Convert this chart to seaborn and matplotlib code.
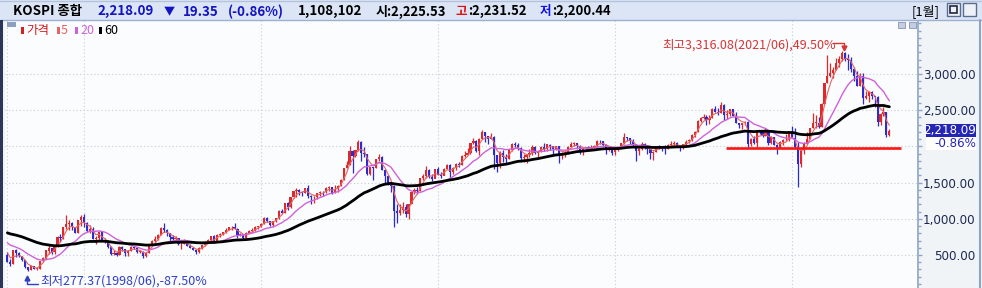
import numpy as np
import pandas as pd
import matplotlib
matplotlib.use("Agg")
import matplotlib.pyplot as plt
import seaborn as sns
from matplotlib.patches import Rectangle
from matplotlib.lines import Line2D

# ---------------- data (monthly KOSPI, 1997/11 .. 2022/10) ----------------
months = pd.period_range("1997-11", "2022-10", freq="M").strftime("%Y/%m").tolist()

# closes before the visible range, only used to warm up the moving averages (1992/12 .. 1997/10)
warmup_closes = [678,
    640, 660, 700, 730, 740, 760, 720, 710, 730, 780, 810, 866,
    920, 880, 860, 900, 930, 920, 950, 960, 1000, 1060, 1110, 1027,
    930, 880, 920, 880, 900, 890, 950, 910, 990, 950, 960, 882,
    860, 900, 910, 970, 960, 880, 840, 810, 830, 810, 730, 651,
    692, 677, 658, 703, 745, 745, 727, 695, 648, 471]

opens = [495, 410,
    380, 567, 523, 482, 434, 331, 298, 349, 310, 311, 413, 454,
    562, 591, 536, 618, 753, 729, 883, 932, 936, 884, 801, 981,
    1028, 944, 828, 861, 725, 732, 821, 706, 689, 613, 514, 527,
    505, 616, 578, 523, 560, 612, 595, 542, 545, 480, 530, 637,
    694, 725, 772, 874, 841, 797, 743, 719, 736, 646, 652, 676,
    628, 592, 575, 536, 599, 633, 670, 713, 759, 698, 779, 796,
    811, 848, 881, 883, 863, 771, 786, 735, 810, 835, 848, 890,
    896, 933, 1011, 966, 911, 970, 1008, 1111, 1083, 1221, 1158, 1297,
    1379, 1400, 1372, 1360, 1420, 1318, 1295, 1298, 1353, 1371, 1365, 1432,
    1434, 1360, 1417, 1453, 1542, 1701, 1744, 1933, 1873, 1946, 2065, 1906,
    1897, 1625, 1712, 1704, 1825, 1852, 1675, 1595, 1474, 1448, 1113, 1076,
    1124, 1162, 1063, 1206, 1369, 1396, 1390, 1557, 1592, 1673, 1581, 1556,
    1683, 1602, 1595, 1693, 1742, 1641, 1698, 1759, 1743, 1873, 1883, 1905,
    2051, 2070, 1939, 2107, 2192, 2142, 2101, 2133, 1880, 1770, 1909, 1848,
    1826, 1956, 2030, 2014, 1982, 1843, 1854, 1880, 1905, 1996, 1912, 1933,
    1997, 1962, 2026, 2005, 1964, 2001, 1863, 1914, 1926, 1997, 2030, 2045,
    2011, 1941, 1980, 1986, 1962, 1995, 2002, 2076, 2069, 2020, 1964, 1981,
    1916, 1949, 1986, 2041, 2127, 2115, 2074, 2030, 1941, 1963, 2029, 1992,
    1961, 1912, 1917, 1996, 1994, 1983, 1970, 2016, 2035, 2044, 2008, 1983,
    2026, 2068, 2092, 2160, 2205, 2347, 2392, 2403, 2363, 2394, 2523, 2476,
    2467, 2566, 2427, 2446, 2515, 2423, 2326, 2295, 2323, 2343, 2030, 2097,
    2041, 2205, 2195, 2141, 2204, 2042, 2131, 2025, 1968, 2063, 2083, 2088,
    2198, 2119, 1987, 1755, 1948, 2030, 2108, 2249, 2326, 2328, 2267, 2591,
    2873, 2976, 3013, 3061, 3148, 3204, 3297, 3202, 3199, 3069, 2971, 2839,
    2978, 2663, 2699, 2758, 2695, 2686, 2333, 2452, 2472, 2156]

highs = [540, 450,
    575, 580, 540, 490, 435, 335, 360, 350, 330, 415, 470, 565,
    640, 600, 620, 760, 785, 886, 1052, 980, 960, 890, 990, 1050,
    1066, 960, 920, 880, 760, 830, 830, 730, 700, 620, 570, 540,
    620, 630, 580, 570, 630, 630, 600, 575, 555, 540, 640, 705,
    760, 790, 880, 937, 860, 800, 780, 760, 740, 680, 720, 690,
    650, 610, 580, 610, 640, 690, 715, 760, 770, 790, 800, 820,
    870, 890, 905, 936, 870, 800, 790, 815, 850, 870, 900, 900,
    940, 1020, 1022, 970, 975, 1010, 1115, 1130, 1225, 1235, 1300, 1380,
    1421, 1410, 1390, 1430, 1464, 1330, 1320, 1360, 1380, 1380, 1440, 1450,
    1440, 1470, 1460, 1545, 1705, 1800, 2004, 1950, 1950, 2085, 2070, 1990,
    1900, 1720, 1720, 1830, 1900, 1870, 1690, 1600, 1500, 1460, 1210, 1200,
    1228, 1200, 1210, 1370, 1430, 1435, 1560, 1615, 1723, 1690, 1620, 1690,
    1720, 1640, 1700, 1760, 1750, 1720, 1770, 1790, 1880, 1930, 1975, 2052,
    2116, 2090, 2110, 2230, 2200, 2150, 2180, 2140, 1880, 1930, 1950, 1900,
    1960, 2050, 2057, 2050, 1990, 1900, 1890, 1960, 2021, 2010, 1940, 2010,
    2042, 2030, 2030, 2010, 2010, 2010, 1920, 1940, 2010, 2060, 2060, 2050,
    2020, 1990, 1990, 2010, 2020, 2020, 2082, 2093, 2080, 2030, 1990, 1990,
    1960, 1990, 2050, 2190, 2130, 2120, 2100, 2040, 1980, 2060, 2050, 2010,
    1970, 1940, 2000, 2020, 2000, 2020, 2030, 2070, 2070, 2060, 2020, 2040,
    2090, 2100, 2170, 2210, 2360, 2400, 2453, 2430, 2430, 2530, 2561, 2530,
    2607, 2580, 2500, 2520, 2500, 2470, 2330, 2330, 2350, 2350, 2110, 2140,
    2205, 2230, 2180, 2250, 2210, 2140, 2135, 2030, 2080, 2100, 2170, 2210,
    2277, 2250, 2060, 1950, 2060, 2200, 2250, 2458, 2430, 2400, 2600, 2880,
    3266, 3150, 3090, 3220, 3250, 3316, 3305, 3280, 3230, 3090, 3040, 3010,
    3010, 2760, 2760, 2760, 2700, 2700, 2460, 2550, 2480, 2240]

lows = [400, 351,
    370, 475, 470, 420, 320, 277, 290, 300, 296, 305, 400, 440,
    520, 510, 520, 610, 680, 720, 860, 850, 850, 800, 800, 900,
    890, 820, 800, 720, 650, 700, 700, 660, 590, 495, 500, 490,
    500, 560, 490, 480, 555, 580, 530, 530, 463, 475, 530, 620,
    680, 710, 770, 820, 760, 700, 690, 690, 640, 580, 650, 620,
    590, 570, 512, 530, 585, 630, 660, 700, 680, 690, 750, 770,
    800, 840, 850, 860, 730, 760, 719, 730, 800, 820, 830, 860,
    880, 930, 960, 900, 890, 960, 1000, 1060, 1080, 1120, 1150, 1290,
    1300, 1330, 1320, 1350, 1290, 1203, 1220, 1280, 1320, 1320, 1360, 1390,
    1345, 1360, 1370, 1450, 1540, 1700, 1740, 1638, 1850, 1930, 1800, 1850,
    1600, 1610, 1537, 1700, 1800, 1670, 1488, 1460, 1366, 892, 939, 1050,
    1080, 1018, 1000, 1200, 1340, 1340, 1380, 1530, 1570, 1560, 1520, 1560,
    1600, 1560, 1600, 1690, 1532, 1620, 1680, 1720, 1740, 1850, 1880, 1900,
    2040, 1920, 1880, 2100, 2060, 2030, 2100, 1684, 1644, 1700, 1780, 1750,
    1820, 1940, 1990, 1950, 1780, 1780, 1770, 1860, 1880, 1900, 1850, 1920,
    1940, 1940, 1950, 1890, 1950, 1770, 1830, 1850, 1900, 2000, 2000, 1960,
    1900, 1880, 1930, 1960, 1960, 1980, 1990, 2040, 2010, 1900, 1930, 1880,
    1876, 1930, 1980, 2040, 2080, 2030, 2010, 1800, 1880, 1950, 1960, 1900,
    1830, 1817, 1920, 1970, 1940, 1890, 1960, 2010, 1990, 2000, 1930, 1960,
    2020, 2050, 2080, 2130, 2200, 2340, 2380, 2300, 2310, 2390, 2470, 2440,
    2460, 2360, 2380, 2420, 2420, 2320, 2260, 2240, 2290, 1985, 2010, 2030,
    1990, 2170, 2130, 2140, 2020, 2040, 2020, 1891, 1980, 2020, 2080, 2070,
    2110, 1980, 1439, 1720, 1900, 2030, 2100, 2250, 2260, 2260, 2270, 2580,
    2870, 2960, 2950, 3050, 3090, 3180, 3180, 3060, 3030, 2900, 2830, 2840,
    2591, 2650, 2608, 2660, 2546, 2276, 2290, 2420, 2134, 2150]

closes = [406.5, 376.3,
    567.4, 522.9, 482.0, 433.6, 331.5, 297.9, 348.8, 310.2, 310.9, 412.8, 453.7, 562.5,
    591.4, 536.2, 618.3, 752.8, 728.6, 883.1, 931.7, 936.1, 883.8, 801.0, 981.3, 1028.1,
    943.9, 828.4, 860.9, 725.4, 731.9, 821.2, 706.0, 688.6, 613.2, 514.5, 526.8, 504.6,
    616.0, 577.6, 523.2, 560.1, 612.1, 595.1, 541.6, 545.1, 479.7, 529.6, 636.5, 693.7,
    725.0, 771.9, 873.7, 840.6, 797.0, 742.7, 719.3, 736.2, 646.4, 651.9, 676.2, 627.6,
    591.9, 575.4, 535.7, 599.3, 633.4, 669.9, 712.8, 759.5, 697.5, 778.5, 796.2, 810.7,
    848.5, 880.5, 883.4, 862.8, 771.5, 785.8, 735.3, 810.2, 835.1, 848.2, 890.1, 895.9,
    932.7, 1011.4, 965.7, 911.3, 970.2, 1008.2, 1111.3, 1083.3, 1221.0, 1158.1, 1297.4, 1379.4,
    1399.8, 1371.6, 1359.6, 1419.7, 1317.7, 1295.2, 1297.8, 1352.7, 1371.4, 1364.6, 1432.2, 1434.5,
    1360.2, 1417.4, 1452.6, 1542.2, 1700.9, 1743.6, 1933.3, 1873.2, 1946.5, 2064.9, 1906.0, 1897.1,
    1624.7, 1711.6, 1704.0, 1825.5, 1852.0, 1674.9, 1594.7, 1474.2, 1448.1, 1113.1, 1076.1, 1124.5,
    1162.1, 1063.0, 1206.3, 1369.4, 1395.9, 1390.1, 1557.3, 1591.9, 1673.1, 1580.7, 1555.6, 1682.8,
    1602.4, 1594.6, 1692.9, 1741.6, 1641.3, 1698.3, 1759.3, 1742.8, 1872.8, 1883.0, 1904.6, 2051.0,
    2069.7, 1939.3, 2106.7, 2192.4, 2142.5, 2100.7, 2133.2, 1880.1, 1769.7, 1909.0, 1847.5, 1825.7,
    1955.8, 2030.3, 2014.0, 1982.0, 1843.5, 1854.0, 1880.4, 1905.1, 1996.2, 1912.1, 1932.9, 1997.1,
    1961.9, 2026.5, 2004.9, 1964.0, 2001.1, 1863.3, 1914.0, 1926.4, 1997.0, 2030.1, 2044.9, 2011.3,
    1941.2, 1980.0, 1985.6, 1961.8, 1995.0, 2002.2, 2076.1, 2068.5, 2020.1, 1964.4, 1980.8, 1915.6,
    1949.3, 1985.8, 2041.0, 2127.2, 2114.8, 2074.2, 2030.2, 1941.5, 1962.8, 2029.5, 1992.0, 1961.3,
    1912.1, 1916.7, 1995.9, 1994.2, 1983.4, 1970.4, 2016.2, 2034.7, 2043.6, 2008.2, 1983.5, 2026.5,
    2067.6, 2091.6, 2160.2, 2205.4, 2347.4, 2391.8, 2402.7, 2363.2, 2394.5, 2523.4, 2476.4, 2467.5,
    2566.5, 2427.4, 2445.9, 2515.4, 2423.0, 2326.1, 2295.3, 2322.9, 2343.1, 2029.7, 2096.9, 2041.0,
    2204.9, 2195.4, 2140.7, 2203.6, 2041.7, 2130.6, 2024.6, 1967.8, 2063.1, 2083.5, 2088.0, 2197.7,
    2119.0, 1987.0, 1754.6, 1947.6, 2029.6, 2108.3, 2249.4, 2326.2, 2327.9, 2267.2, 2591.3, 2873.5,
    2976.2, 3013.0, 3061.4, 3147.9, 3203.9, 3296.7, 3202.3, 3199.3, 3068.8, 2970.7, 2839.0, 2977.7,
    2663.3, 2699.2, 2757.7, 2695.1, 2685.9, 2332.6, 2451.5, 2472.1, 2155.5, 2218.1]

ma_periods = [5, 20, 60]
ma_colors = ["#e86464", "#d062d8", "#000000"]
ytick_values = [500, 1000, 1500, 2000, 2500, 3000]
ytick_labels = ["500.00", "1,000.00", "1,500.00", "", "2,500.00", "3,000.00"]  # 2,000.00 is covered by the price tag
vgrid_months = ["1997/11", "2000/01", "2005/01", "2010/01", "2015/01", "2020/01"]
support_level = 1975
last_price = 2218.09
last_change = "-0.86%"

# ---------------- figure ----------------
W, H = 982, 288
sns.set_style("white")
CJK = ["Noto Sans CJK KR", "DejaVu Sans"]
plt.rcParams["font.family"] = CJK

fig = plt.figure(figsize=(W / 100, H / 100), dpi=100, facecolor="#f1f4f7")

def fx(x):
    return x / W

def fy(y):
    return 1 - y / H

ax = fig.add_axes([fx(5), 0, (918 - 5) / W, (H - 20) / H])
ax.set_facecolor("#fafcfd")

df = pd.DataFrame({"month": months, "open": opens, "high": highs, "low": lows, "close": closes})
df["x"] = np.arange(len(df)) - 26  # 2000/01 -> 0

# weighted moving averages
full_close = pd.Series(warmup_closes + closes, dtype=float)
n_warm = len(warmup_closes)
for p in ma_periods:
    w = np.arange(1, p + 1, dtype=float)
    wma = full_close.rolling(p).apply(lambda s: np.dot(s, w) / w.sum(), raw=True)
    df[f"ma{p}"] = wma.iloc[n_warm:].to_numpy()

up = df["close"] >= df["open"]
cols = np.where(up, "#dc2a2a", "#2b2bd0")
body_lo = np.minimum(df["open"], df["close"])
body_h = np.maximum(np.abs(df["close"] - df["open"]), 12)

ax.vlines(df["x"], df["low"], df["high"], colors=cols, lw=0.9, zorder=3)
ax.bar(df["x"], body_h, bottom=body_lo, width=0.72, color=cols, linewidth=0, zorder=3)

lw_map = {5: 0.8, 20: 1.0, 60: 2.0}
for p, c in zip(ma_periods, ma_colors):
    sns.lineplot(data=df, x="x", y=f"ma{p}", ax=ax, color=c, linewidth=lw_map[p],
                 estimator=None, sort=False, legend=False, zorder=4)

# support line
xs_support = df.loc[df["month"] == "2018/03", "x"].iloc[0] - 0.5
ax.hlines(support_level, xs_support, 276.8, color="#ff1414", lw=1.9, zorder=5)

# axes config
ax.set_xlim(-26.8, 282.7)
ax.set_ylim(44, 3746)
ax.set_xlabel("")
ax.set_ylabel("")
vg = [df.loc[df["month"] == m, "x"].iloc[0] for m in vgrid_months]
ax.set_xticks(vg)
ax.set_xticklabels([])
ax.tick_params(axis="x", length=0)
ax.set_yticks(ytick_values)
ax.set_yticks(np.arange(100, 3800, 100), minor=True)
ax.set_yticklabels(ytick_labels)
ax.yaxis.tick_right()
ax.tick_params(axis="y", which="major", direction="out", length=3, width=1, color="#8ea4c6",
               pad=38.6, labelsize=8.6, labelcolor="#1c2850")
ax.tick_params(axis="y", which="minor", direction="out", length=2, width=1, color="#8ea4c6")
for lbl in ax.get_yticklabels():
    lbl.set_horizontalalignment("right")
    lbl.set_family("DejaVu Sans")
ax.grid(True, which="major", axis="both", color="#c9cdd2", linestyle=(0, (1, 2.2)), lw=0.8)
ax.set_axisbelow(True)
for s in ["top", "left", "bottom"]:
    ax.spines[s].set_visible(False)
ax.spines["right"].set_color("#8ea4c6")
ax.spines["right"].set_linewidth(1.2)

# last price box
ytf = ax.get_yaxis_transform()
ax.add_patch(Rectangle(((926 - 5) / 913, 2130), 50 / 913, 180, transform=ytf,
                       facecolor="#2626b4", edgecolor="none", clip_on=False, zorder=6))
ax.add_patch(Rectangle(((926 - 5) / 913, 1945), 50 / 913, 185, transform=ytf,
                       facecolor="#ffffff", edgecolor="none", clip_on=False, zorder=6))
ax.text((976 - 5) / 913, last_price - 5, f"{last_price:,.2f}", transform=ytf, ha="right", va="center",
        color="white", fontsize=8.6, family="DejaVu Sans", zorder=7, clip_on=False)
ax.text((976 - 5) / 913, 2040, last_change, transform=ytf, ha="right", va="center",
        color="#2626b4", fontsize=8.6, family="DejaVu Sans", zorder=7, clip_on=False)

# ---------------- header ----------------
fig.patches.append(Rectangle((0, fy(20)), 1, 20 / H, transform=fig.transFigure,
                             facecolor="#dbe5f6", edgecolor="none", zorder=0))
fig.lines.append(Line2D([0, 1], [fy(19.5), fy(19.5)], transform=fig.transFigure, color="#9db0d2", lw=1))
fig.lines.append(Line2D([0, 1], [fy(0.5), fy(0.5)], transform=fig.transFigure, color="#b4c2dc", lw=1))
# left dark border
fig.patches.append(Rectangle((0, 0), 3 / W, (H - 20) / H, transform=fig.transFigure,
                             facecolor="#2b3658", edgecolor="none", zorder=10))
# right border of axis panel
fig.lines.append(Line2D([fx(980), fx(980)], [0, fy(20)], transform=fig.transFigure, color="#8ea4c6", lw=1.5))

hy = fy(11.5)
hdr = [
    (13, "KOSPI 종합", "#000000", 9.6),
    (97, "2,218.09", "#1414c0", 9.6),
    (164, "▼", "#1414c0", 8.0),
    (183, "19.35", "#1414c0", 9.6),
    (228, "(-0.86%)", "#1414c0", 9.6),
    (298, "1,108,102", "#000000", 9.6),
    (376, "시:2,225.53", "#000000", 9.4),
    (456, "고", "#e01010", 9.0),
    (468, ":2,231.52", "#000000", 9.4),
    (540, "저", "#1414e0", 9.0),
    (552, ":2,200.44", "#000000", 9.4),
]
for x0, t, c, fs in hdr:
    fig.text(fx(x0), hy, t, color=c, fontsize=fs, fontweight="bold", family=CJK, va="center", ha="left")
fig.text(fx(912), hy, "[1월]", color="#000000", fontsize=9.4, family=CJK, va="center", ha="left")
# window buttons
for bx in (947, 963):
    fig.patches.append(Rectangle((fx(bx), fy(16)), 13 / W, 13 / H, transform=fig.transFigure,
                                 facecolor="#eef2f8", edgecolor="#5c6c90", lw=1, zorder=3))
fig.patches.append(Rectangle((fx(950), fy(13)), 7 / W, 7 / H, transform=fig.transFigure,
                             facecolor="none", edgecolor="#202840", lw=1.2, zorder=4))
fig.lines.append(Line2D([fx(966.5), fx(972.5)], [fy(6.5), fy(12.5)], transform=fig.transFigure, color="#202840", lw=1.4))
fig.lines.append(Line2D([fx(966.5), fx(972.5)], [fy(12.5), fy(6.5)], transform=fig.transFigure, color="#202840", lw=1.4))

# ---------------- legend row ----------------
fig.patches.append(Rectangle((fx(7), fy(27)), 9 / W, 5 / H, transform=fig.transFigure,
                             facecolor="#8ca0c0", edgecolor="none", zorder=3))
leg = [(21, 26, "가격", "#d42020", "#d42020"),
       (57, 61, "5", "#e86464", "#e86464"),
       (75, 80, "20", "#d062d8", "#d062d8"),
       (99, 104, "60", "#000000", "#000000")]
for bx, tx, t, bc, tc in leg:
    fig.patches.append(Rectangle((fx(bx), fy(34)), 2.5 / W, 7 / H, transform=fig.transFigure,
                                 facecolor=bc, edgecolor="none", zorder=3))
    fig.text(fx(tx), fy(30.5), t, color=tc, fontsize=9, family=CJK, va="center", ha="left")

# small icons top-right in chart
for bx in (898, 909):
    fig.patches.append(Rectangle((fx(bx), fy(28)), 7 / W, 6 / H, transform=fig.transFigure,
                                 facecolor="#c4cee0", edgecolor="#8494b4", lw=0.6, zorder=3))

# ---------------- annotations ----------------
fig.text(fx(662), fy(45), "최고3,316.08(2021/06),49.50%", color="#d83434", fontsize=9,
         family=CJK, va="center", ha="left")
fig.lines.append(Line2D([fx(833), fx(844), fx(844)], [fy(42.5), fy(42.5), fy(47)],
                        transform=fig.transFigure, color="#d83434", lw=1))
fig.lines.append(Line2D([fx(844)], [fy(47.5)], transform=fig.transFigure, color="#d83434",
                        marker="v", markersize=3.5, lw=0))

fig.text(fx(40), fy(281), "최저277.37(1998/06),-87.50%", color="#3040c4", fontsize=9,
         family=CJK, va="center", ha="left")
fig.lines.append(Line2D([fx(38), fx(27), fx(27)], [fy(283.5), fy(283.5), fy(278)],
                        transform=fig.transFigure, color="#3040c4", lw=1))
fig.lines.append(Line2D([fx(27)], [fy(277.5)], transform=fig.transFigure, color="#3040c4",
                        marker="^", markersize=3.5, lw=0))

fig.savefig("out.png", dpi=100, facecolor=fig.get_facecolor())
